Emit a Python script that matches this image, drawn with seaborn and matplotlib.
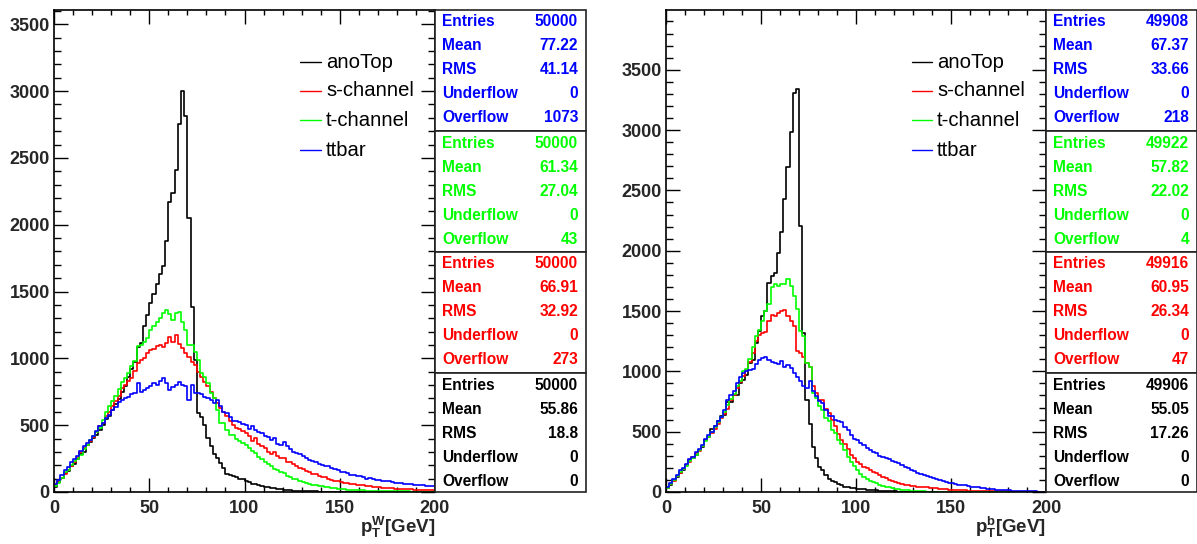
import numpy as np
import pandas as pd
import matplotlib
matplotlib.use("Agg")
import matplotlib.pyplot as plt
import seaborn as sns
from matplotlib.ticker import MultipleLocator, FixedLocator
from matplotlib.patches import Rectangle
from matplotlib.lines import Line2D

# ---------------- data ----------------
n_bins = 120
x_lo, x_hi = 0, 200

series_names = ["anoTop", "s-channel", "t-channel", "ttbar"]
series_colors = ["#000000", "#ff0000", "#00ff00", "#0000ff"]

# left panel: pT of W
w_anotop = [40, 78, 105, 145, 158, 195, 212, 248, 285, 298, 352, 376,
            402, 428, 465, 498, 545, 572, 612, 655, 698, 752, 795, 862,
            918, 975, 1085, 1118, 1240, 1322, 1412, 1478, 1560,
            1630, 1692, 1880, 2169, 2241, 2408, 2757, 3004, 2817, 2054,
            1386, 987, 588, 563, 501, 404, 344, 282, 257, 219, 182, 132, 130, 120,
            110, 100, 95, 82, 75, 62, 60, 50, 46, 40, 35, 30,
            28, 22, 20, 18, 15, 12, 11, 9, 8, 7, 6, 5,
            5, 4, 3, 3, 2, 2, 2, 1, 1, 1, 1, 1,
            0, 1, 0, 0, 0, 1, 0, 0, 0, 0, 0, 0,
            0, 0, 0, 0, 0, 0, 0, 0, 0, 0, 0, 0, 0, 0, 0]
w_schan = [50, 72, 108, 132, 162, 192, 228, 258, 302, 326, 352, 382,
           412, 448, 492, 518, 572, 598, 642, 678, 722, 778, 802, 828,
           852, 902, 962, 988, 1002, 1038, 1062, 1068, 1092, 1098, 1088, 1112,
           1160, 1120, 1175, 1110, 1075, 1040, 1012, 975, 950, 900, 862, 825,
           790, 750, 700, 663, 630, 600, 570, 530, 505, 480, 470, 460,
           442, 418, 382, 402, 358, 342, 328, 302, 282, 298, 272, 258,
           252, 228, 222, 208, 192, 182, 172, 158, 152, 138, 132, 118,
           115, 110, 100, 90, 85, 80, 75, 70, 65, 62, 58, 55,
           52, 50, 46, 44, 40, 38, 36, 33, 32, 30, 28, 26,
           25, 23, 22, 20, 19, 18, 17, 16, 15, 14, 13, 12]
w_tchan = [45, 70, 105, 150, 165, 200, 230, 250, 280, 320, 350, 390,
           420, 450, 480, 540, 600, 640, 680, 720, 770, 820, 850, 890,
           940, 980, 1090, 1100, 1120, 1150, 1210, 1240, 1270, 1300, 1340, 1360,
           1330, 1286, 1340, 1347, 1274, 1212, 1100, 1100, 1050, 990, 887, 862,
           813, 738, 700, 613, 520, 513, 464, 430, 428, 400, 380, 365,
           350, 330, 310, 290, 265, 250, 225, 210, 195, 175, 165, 150,
           140, 120, 110, 100, 95, 80, 75, 70, 60, 55, 52, 45,
           42, 38, 35, 30, 28, 25, 22, 20, 18, 17, 15, 14,
           12, 12, 10, 9, 9, 8, 7, 7, 6, 6, 5, 5,
           5, 4, 4, 4, 3, 3, 3, 3, 2, 2, 2, 2]
w_ttbar = [60, 92, 128, 162, 188, 222, 248, 272, 308, 342, 368, 392,
           422, 458, 492, 518, 552, 578, 612, 638, 672, 688, 702, 712,
           732, 742, 812, 752, 762, 782, 792, 812, 802, 832, 852, 812,
           763, 788, 800, 825, 800, 790, 688, 800, 740, 738, 730, 713,
           700, 690, 663, 690, 640, 600, 590, 560, 530, 532, 522, 512,
           502, 472, 492, 462, 452, 442, 422, 412, 392, 402, 362, 352,
           372, 342, 322, 302, 292, 282, 272, 252, 242, 232, 226, 212,
           202, 192, 196, 176, 172, 162, 152, 146, 140, 130, 126, 120,
           116, 110, 100, 106, 96, 90, 90, 86, 80, 80, 76, 70,
           70, 66, 62, 60, 58, 56, 55, 50, 52, 48, 45, 45]

# right panel: pT of b
b_anotop = [30, 60, 100, 127, 160, 183, 220, 266, 280, 310, 349, 376,
            430, 460, 520, 543, 590, 627, 640, 750, 750, 805, 805, 904,
            931, 973, 1070, 1098, 1237, 1333, 1458, 1500, 1735, 1790,
            1818, 1979, 2159, 2425, 2691, 2987, 3309, 3337, 2206,
            1319, 760, 560, 377, 280, 208, 180, 139, 111, 90, 83, 69,
            55, 42, 40, 35, 30, 28, 25, 22, 20, 18, 15, 13,
            11, 10, 8, 7, 6, 5, 4, 4, 3, 3, 2, 2,
            2, 1, 1, 1, 1, 0, 1, 0, 0, 1, 0, 0,
            0, 0, 0, 0, 0, 0, 0, 0, 0, 0, 0, 0, 0, 0,
            0, 0, 0, 0, 0, 0, 0, 0, 0, 0, 0, 0, 0, 0, 0]
b_schan = [35, 70, 95, 130, 160, 190, 220, 250, 290, 320, 340, 380,
           430, 460, 490, 520, 560, 610, 650, 690, 760, 800, 860, 910,
           960, 1010, 1080, 1150, 1250, 1300, 1320, 1330, 1420, 1470, 1460, 1480,
           1500, 1510, 1458, 1420, 1375, 1166, 1150, 1122, 1070, 1040, 875, 820,
           765, 760, 690, 654, 598, 543, 480, 430, 395, 355, 310, 280,
           250, 230, 211, 195, 183, 165, 155, 140, 125, 115, 100, 90,
           80, 72, 65, 60, 58, 52, 48, 44, 42, 40, 38, 35,
           32, 30, 27, 25, 22, 20, 18, 17, 16, 14, 13, 12,
           11, 10, 9, 9, 8, 8, 7, 7, 6, 6, 5, 5,
           5, 4, 4, 4, 3, 3, 3, 3, 2, 2, 2, 2]
b_tchan = [30, 65, 100, 130, 165, 190, 215, 260, 280, 310, 350, 380,
           420, 460, 500, 540, 580, 620, 660, 720, 770, 810, 880, 920,
           1000, 1020, 1100, 1200, 1290, 1340, 1420, 1500, 1560, 1700, 1720, 1710,
           1721, 1721, 1762, 1707, 1624, 1513, 1333, 1290, 1070, 1040, 820, 780,
           709, 681, 612, 585, 515, 488, 430, 395, 345, 290, 250, 215,
           180, 150, 128, 110, 95, 80, 72, 62, 52, 45, 38, 32,
           27, 23, 20, 16, 13, 11, 9, 8, 6, 5, 4, 4,
           3, 3, 2, 2, 2, 1, 1, 1, 1, 1, 1, 0,
           1, 0, 1, 0, 0, 1, 0, 0, 0, 0, 0, 0,
           0, 0, 0, 0, 0, 0, 0, 0, 0, 0, 0, 0]
b_ttbar = [40, 75, 110, 140, 180, 200, 230, 270, 290, 330, 360, 390,
           440, 470, 500, 550, 590, 620, 680, 760, 800, 840, 900, 950,
           990, 1000, 1010, 1020, 1060, 1090, 1110, 1120, 1095, 1080, 1070, 1065,
           1083, 1040, 1054, 1027, 985, 957, 917, 875, 862, 917, 834, 792,
           751, 737, 682, 626, 626, 599, 590, 580, 540, 515, 470, 440,
           432, 410, 391, 363, 350, 335, 322, 300, 294, 280, 270, 260,
           250, 239, 225, 210, 195, 183, 170, 155, 150, 140, 135, 128,
           115, 105, 100, 92, 85, 78, 72, 68, 62, 58, 55, 50,
           45, 42, 38, 34, 30, 28, 25, 22, 20, 18, 17, 15,
           14, 12, 11, 10, 9, 8, 7, 6, 5, 4, 4, 3]

stat_labels = ["Entries", "Mean", "RMS", "Underflow", "Overflow"]
# stat boxes, top to bottom: ttbar, t-channel, s-channel, anoTop
stats_w = [["50000", "77.22", "41.14", "0", "1073"],
           ["50000", "61.34", "27.04", "0", "43"],
           ["50000", "66.91", "32.92", "0", "273"],
           ["50000", "55.86", "18.8", "0", "0"]]
stats_b = [["49908", "67.37", "33.66", "0", "218"],
           ["49922", "57.82", "22.02", "0", "4"],
           ["49916", "60.95", "26.34", "0", "47"],
           ["49906", "55.05", "17.26", "0", "0"]]
stat_colors = ["#0000ff", "#00ff00", "#ff0000", "#000000"]

y_ticks = [0, 500, 1000, 1500, 2000, 2500, 3000, 3500]
x_ticks = [0, 50, 100, 150, 200]

# ---------------- style ----------------
sns.set_style("ticks")
plt.rcParams["font.family"] = ["Liberation Sans", "DejaVu Sans"]
plt.rcParams["mathtext.fontset"] = "custom"
plt.rcParams["mathtext.rm"] = "Liberation Sans:bold"
plt.rcParams["mathtext.bf"] = "Liberation Sans:bold"
plt.rcParams["mathtext.it"] = "Liberation Sans:bold"

W, H = 1197, 544
fig = plt.figure(figsize=(W / 100, H / 100), dpi=100)
fig.patch.set_facecolor("white")


def fx(px):
    return px / W


def fy(py):
    return 1 - py / H


bin_w = (x_hi - x_lo) / n_bins
centers = x_lo + bin_w * (np.arange(n_bins) + 0.5)


def make_panel(ax_px, hists, ymax, xlabel_sup, stats, box_px, legend_px):
    x0, y0, x1, y1 = ax_px
    ax = fig.add_axes([fx(x0), fy(y1), fx(x1) - fx(x0), fy(y0) - fy(y1)])
    df = pd.DataFrame({"x": np.tile(centers, 4),
                       "w": np.concatenate([np.asarray(h, float) for h in hists]),
                       "s": np.repeat(series_names, n_bins)})
    for name, col in zip(series_names, series_colors):
        sub = df[df["s"] == name]
        sns.histplot(data=sub, x="x", weights="w", bins=n_bins, binrange=(x_lo, x_hi),
                     element="step", fill=False, color=col, linewidth=1.2, ax=ax)
    ax.set_xlim(x_lo, x_hi)
    ax.set_ylim(0, ymax)
    ax.set_xlabel("")
    ax.set_ylabel("")
    ax.xaxis.set_major_locator(FixedLocator(x_ticks))
    ax.xaxis.set_minor_locator(MultipleLocator(10))
    ax.yaxis.set_major_locator(FixedLocator(y_ticks))
    ax.yaxis.set_minor_locator(MultipleLocator(100))
    ax.tick_params(axis="both", which="both", direction="in", top=True, right=True,
                   width=1.0, color="black")
    ax.tick_params(axis="both", which="major", length=10)
    ax.tick_params(axis="y", which="minor", length=5)
    ax.tick_params(axis="x", which="minor", length=3.5)
    ax.tick_params(axis="y", which="major", pad=3, labelsize=13)
    ax.tick_params(axis="x", which="major", pad=6, labelsize=13)
    for lab in ax.get_xticklabels() + ax.get_yticklabels():
        lab.set_fontweight("bold")
    for sp in ax.spines.values():
        sp.set_linewidth(1.2)
        sp.set_color("black")
    # x-axis title, right aligned at axis end
    fig.text(fx(x1), fy(527), r"$\mathbf{p}_{\mathbf{T}}^{\mathbf{%s}}$[GeV]" % xlabel_sup,
             ha="right", va="center", fontsize=13.5, fontweight="bold")

    # stat boxes
    bx0, bx1, bounds = box_px
    for i in range(4):
        top, bot = bounds[i], bounds[i + 1]
        fig.patches.append(Rectangle((fx(bx0), fy(bot)), fx(bx1) - fx(bx0), fy(top) - fy(bot),
                                     transform=fig.transFigure, facecolor="white",
                                     edgecolor="#222222", linewidth=1.2, zorder=5))
        for j in range(5):
            ypix = top + 12 + 24 * j
            fig.text(fx(bx0 + 7), fy(ypix), stat_labels[j], ha="left", va="center",
                     fontsize=11.2, fontweight="bold", color=stat_colors[i], zorder=6)
            fig.text(fx(bx1 - 8), fy(ypix), stats[i][j], ha="right", va="center",
                     fontsize=11.2, fontweight="bold", color=stat_colors[i], zorder=6)

    # legend
    lx0, lx1, tx, rows = legend_px
    for name, col, ypix in zip(series_names, series_colors, rows):
        fig.lines.append(Line2D([fx(lx0), fx(lx1)], [fy(ypix), fy(ypix)],
                                transform=fig.transFigure, color=col, linewidth=1.0))
        fig.text(fx(tx), fy(ypix), name, ha="left", va="center", fontsize=14.6,
                 color="black")
    return ax


legend_rows = [62, 91, 120, 150]
box_bounds = [10, 131, 252, 373, 492]

make_panel((54, 10, 435, 492), [w_anotop, w_schan, w_tchan, w_ttbar], 3607, "W",
           stats_w, (435, 586, box_bounds), (300, 321, 326, legend_rows))
make_panel((666, 10, 1046, 492), [b_anotop, b_schan, b_tchan, b_ttbar], 3995, "b",
           stats_b, (1046, 1197, box_bounds), (912, 932, 937, legend_rows))

fig.savefig("out.png", dpi=100, facecolor="white")
